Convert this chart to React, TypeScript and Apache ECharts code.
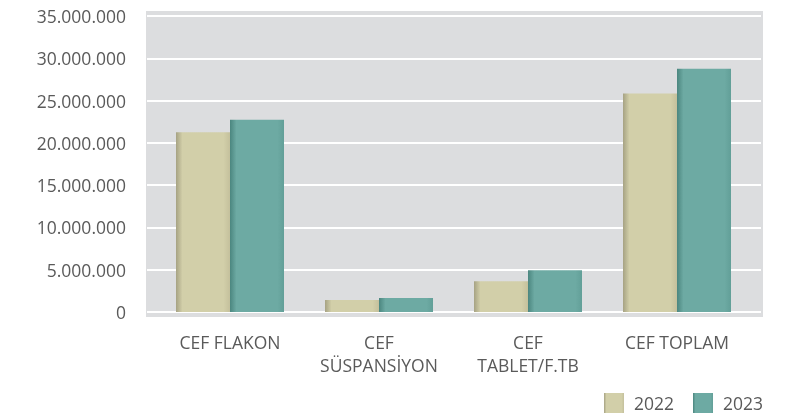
import React, { useEffect, useRef } from "react";
import * as echarts from "echarts";

const categories = ["CEF FLAKON", "CEF\nSÜSPANSİYON", "CEF\nTABLET/F.TB", "CEF TOPLAM"];
const values2022 = [21250000, 1410000, 3650000, 25840000];
const values2023 = [22740000, 1650000, 4950000, 28750000];
const seriesNames = ["2022", "2023"];
const yMax = 35000000;
const yInterval = 5000000;

const fmt = (v: number) => String(Math.round(v)).replace(/\B(?=(\d{3})+(?!\d))/g, ".");

const grad = (dark: string, light: string, right: string) =>
  new echarts.graphic.LinearGradient(0, 0, 1, 0, [
    { offset: 0, color: dark },
    { offset: 0.12, color: light },
    { offset: 0.88, color: light },
    { offset: 1, color: right },
  ]);

export default function App() {
  const ref = useRef<HTMLDivElement>(null);
  useEffect(() => {
    if (!ref.current) return;
    const chart = echarts.init(ref.current, null, { renderer: "svg" });
    const font = "'Open Sans', sans-serif";
    const textColor = "#5a5a5a";
    chart.setOption({
      animation: false,
      textStyle: { fontFamily: font },
      graphic: [
        {
          type: "rect",
          z: -10,
          shape: { x: 146, y: 11, width: 617, height: 306 },
          style: { fill: "#dcdddf" },
          silent: true,
        },
      ],
      grid: [
        { left: 147, right: 47, top: 16, height: 296, containLabel: false },
        { left: 155.5, width: 596, top: 16, height: 296, containLabel: false },
      ],
      xAxis: [
        { type: "category", gridIndex: 0, data: categories, show: false },
        {
          type: "category",
          gridIndex: 1,
          data: categories,
          axisLine: { show: false },
          axisTick: { show: false },
          axisLabel: {
            color: textColor,
            fontSize: 17.5,
            fontFamily: font,
            margin: 18,
            lineHeight: 23,
            interval: 0,
          },
        },
      ],
      yAxis: [
        {
          type: "value",
          gridIndex: 0,
          min: 0,
          max: yMax,
          interval: yInterval,
          axisLine: { show: false },
          axisTick: { show: false },
          splitLine: { show: true, lineStyle: { color: "#ffffff", width: 2 } },
          axisLabel: {
            color: textColor,
            fontSize: 17.5,
            fontFamily: font,
            margin: 21,
            formatter: (v: number) => fmt(v),
          },
        },
        {
          type: "value",
          gridIndex: 1,
          min: 0,
          max: yMax,
          interval: yInterval,
          show: false,
          splitLine: { show: false },
        },
      ],
      legend: {
        data: seriesNames,
        left: 604,
        top: 393,
        padding: 0,
        itemWidth: 20,
        itemHeight: 20,
        itemGap: 19,
        icon: "rect",
        textStyle: { color: textColor, fontSize: 17.5, fontFamily: font, padding: [0, 0, 0, 5] },
      },
      series: [
        {
          name: seriesNames[0],
          type: "bar",
          xAxisIndex: 1,
          yAxisIndex: 1,
          data: values2022,
          barWidth: 54,
          barGap: "0%",
          itemStyle: { color: grad("#a6a283", "#d2cfa9", "#c4c09c") },
        },
        {
          name: seriesNames[1],
          type: "bar",
          xAxisIndex: 1,
          yAxisIndex: 1,
          data: values2023,
          barWidth: 54,
          barGap: "0%",
          itemStyle: { color: grad("#4b867f", "#6daaa3", "#629f98") },
        },
      ],
    });
    return () => chart.dispose();
  }, []);
  return (
    <div
      ref={ref}
      style={{ position: "fixed", left: 0, top: 0, width: 808, height: 416 }}
    />
  );
}
